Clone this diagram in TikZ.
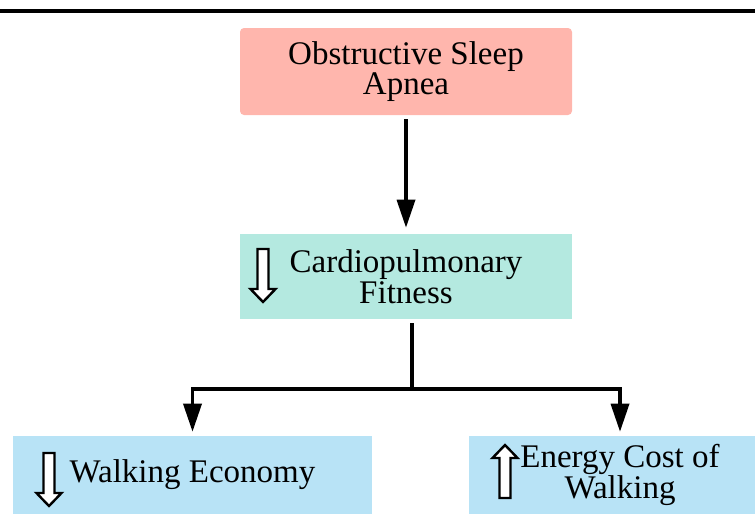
\documentclass[tikz,border=0pt]{standalone}
\usepackage{fontspec}
\setmainfont{Liberation Serif}
\usetikzlibrary{arrows.meta}

\definecolor{osapink}{HTML}{FFB6AD}
\definecolor{fitteal}{HTML}{B4E9E0}
\definecolor{walkblue}{HTML}{B8E3F6}

\tikzset{
    box/.style={inner sep=0pt, align=center, font=\fontsize{24.75}{23}\selectfont},
    conn/.style={line width=2.6pt},
    arr/.style={conn, -{Triangle[length=21pt,width=13.5pt]}},
    hollow/.style={draw=black, fill=white, line width=1.8pt, line join=miter},
}

\begin{document}
\begin{tikzpicture}[x=0.75pt,y=-0.75pt]
    \useasboundingbox (0,0) rectangle (755,514);
    \draw[line width=2.3pt] (0,11) -- (755,11);
    % boxes
    \node[box, fill=osapink, rounded corners=3pt, minimum width=249pt, minimum height=65.25pt] (osa) at (406,71.5) {Obstructive Sleep\\Apnea};
    \node[box, fill=fitteal, minimum width=249pt, minimum height=63.75pt] (fitness) at (406,276.5) {Cardiopulmonary\\Fitness};
    \node[box, fill=walkblue, minimum width=269.25pt, minimum height=58.5pt] (economy) at (192.5,475) {Walking Economy};
    \node[box, fill=walkblue, minimum width=226.5pt, minimum height=58.5pt, font=\fontsize{24.75}{19}\selectfont] (cost) at (620,475) {Energy Cost of\\Walking};
    % hollow arrows
    \foreach \ax/\ay/\dir in {263/249/1, 49/453/1, 505/498/-1}
    \draw[hollow, shift={(\ax,\ay)}, yscale=\dir] (-5.5,0) -- (5.5,0) -- (5.5,40) -- (12.5,40) -- (0,53) -- (-12.5,40) -- (-5.5,40) -- cycle;
    % connectors
    \coordinate (split) at (412,389);
    \draw[arr, shorten <=3pt, shorten >=4.5pt] (osa) -- (fitness);
    \draw[conn, shorten <=3pt] (fitness.south -| split) -- (split);
    \draw[arr, shorten >=3pt] (split) -| (economy.north);
    \draw[arr, shorten >=3pt] (split) -| (cost.north);
\end{tikzpicture}
\end{document}
